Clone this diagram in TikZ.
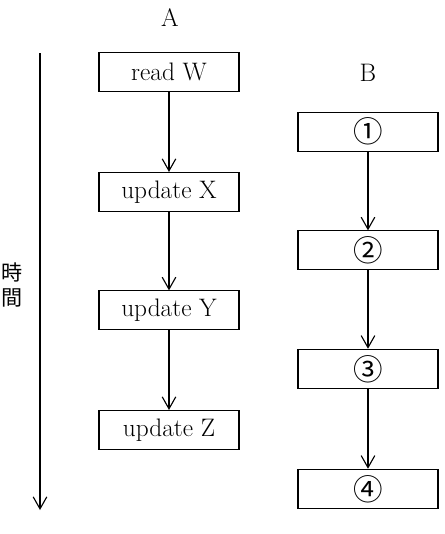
\documentclass[tikz,border=0pt]{standalone}
\usepackage{fontspec}
\newfontfamily\jpfont{Noto Sans CJK JP}
\usetikzlibrary{arrows.meta, positioning}

\begin{document}
\begin{tikzpicture}[
  opbox/.style={draw, line width=0.8pt, minimum width=3.5cm, minimum height=0.975cm,
    inner sep=0pt, font=\fontsize{18}{21}\selectfont},
  numbox/.style={opbox, font=\jpfont\fontsize{21}{23}\selectfont},
  flow/.style={-{Straight Barb[length=3mm,width=3.4mm]}, line width=0.8pt},
  colname/.style={font=\fontsize{18}{21}\selectfont}
]
\useasboundingbox (0,0) rectangle (11.1,-13.35);

% Time axis
\coordinate (tstart) at (1.0,-1.33);
\coordinate (tend) at (1.0,-12.75);
\draw[flow] (tstart) -- (tend);
\node[font=\jpfont\fontsize{15}{17.8}\selectfont, align=center] (time) at (0.3,-7.12) {時\\間};

% Transaction A
\node[colname] (labelA) at (4.25,-0.45) {A};
\node[opbox] (readW) at (4.225,-1.81) {read W};
\node[opbox] (updX) at (4.225,-4.8) {update X};
\node[opbox] (updY) at (4.225,-7.76) {update Y};
\node[opbox] (updZ) at (4.225,-10.75) {update Z};
\draw[flow] (readW) -- (updX);
\draw[flow] (updX) -- (updY);
\draw[flow] (updY) -- (updZ);

% Transaction B
\node[colname] (labelB) at (9.2,-1.83) {B};
\node[numbox] (stepOne) at (9.2,-3.29) {①};
\node[numbox] (stepTwo) at (9.2,-6.26) {②};
\node[numbox] (stepThree) at (9.2,-9.22) {③};
\node[numbox] (stepFour) at (9.2,-12.22) {④};
\draw[flow] (stepOne) -- (stepTwo);
\draw[flow] (stepTwo) -- (stepThree);
\draw[flow] (stepThree) -- (stepFour);
\end{tikzpicture}
\end{document}
